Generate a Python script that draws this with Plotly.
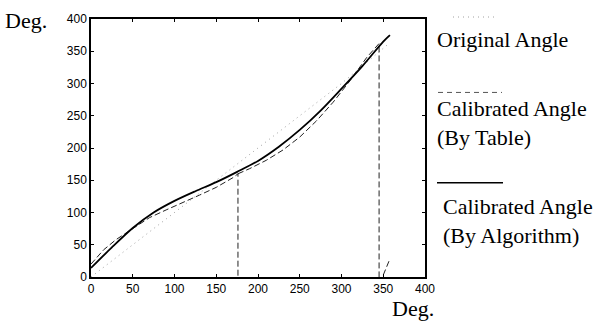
import plotly.graph_objects as go

# Original angle (dotted)
orig_x = [0, 100, 200, 300, 355]
orig_y = [0, 100, 200, 300, 360]

# Calibrated angle by table (dashed) - includes wrap/glitch jumps (None = break)
table_x = [0, 15, 30, 50, 70, 90, 110, 130, 150, 170, 176, 176, None, 176, 190, 210, 230, 250, 270, 290, 310, 330, 345, 345, None, 350, 357]
table_y = [20, 42, 58, 75, 92, 104, 115, 127, 139, 154, 160, 0, None, 160, 168, 181, 197, 217, 242, 271, 304, 340, 362, 0, None, 3, 25]

# Calibrated angle by algorithm (solid)
alg_x = [0, 25, 50, 75, 100, 125, 150, 175, 200, 225, 250, 275, 300, 325, 350, 358]
alg_y = [14, 46, 76, 100, 118, 133, 147, 163, 180, 202, 228, 258, 292, 327, 365, 375]

ticks = [0, 50, 100, 150, 200, 250, 300, 350, 400]

fig = go.Figure()
fig.add_trace(go.Scatter(x=orig_x, y=orig_y, mode="lines",
                         line=dict(color="#a0a0a0", width=1, dash="1px,4px"), showlegend=False))
fig.add_trace(go.Scatter(x=table_x, y=table_y, mode="lines", connectgaps=False,
                         line=dict(color="#222222", width=1, dash="6px,3px"), showlegend=False))
fig.add_trace(go.Scatter(x=alg_x, y=alg_y, mode="lines",
                         line=dict(color="black", width=1.8, shape="spline", smoothing=0.8), showlegend=False))

L, R, T, B = 91, 425, 17, 277
W, H = 593, 327

def px(x):
    return (x - L) / (R - L)

def py(y):
    return (B - y) / (B - T)

axis_common = dict(range=[0, 400], tickvals=ticks, showline=True, linecolor="black", linewidth=1.5,
                   mirror="ticks", ticks="inside", ticklen=3, tickcolor="black", showgrid=False,
                   zeroline=False, tickfont=dict(family="Liberation Sans, Arial", size=12, color="black"))

fig.update_layout(
    width=W, height=H,
    margin=dict(l=L, r=W - R, t=T, b=H - B),
    paper_bgcolor="white", plot_bgcolor="white",
    xaxis=dict(**axis_common),
    yaxis=dict(**axis_common),
    showlegend=False,
)

serif = dict(family="Liberation Serif, Times New Roman", size=22, color="black")

# Legend samples
fig.add_shape(type="line", xref="paper", yref="paper", x0=px(453), x1=px(495), y0=py(15), y1=py(15),
              line=dict(color="#a0a0a0", width=1, dash="1px,4px"))
fig.add_shape(type="line", xref="paper", yref="paper", x0=px(438), x1=px(502), y0=py(91), y1=py(91),
              line=dict(color="#555555", width=1, dash="5px,4px"))
fig.add_shape(type="line", xref="paper", yref="paper", x0=px(437), x1=px(503), y0=py(182), y1=py(182),
              line=dict(color="black", width=1.5))

fig.add_annotation(text="Original Angle", xref="paper", yref="paper", x=px(435), y=py(38),
                   xanchor="left", yanchor="middle", showarrow=False, font=serif, align="left")
fig.add_annotation(text="Calibrated Angle<br>(By Table)", xref="paper", yref="paper", x=px(435), y=py(122),
                   xanchor="left", yanchor="middle", showarrow=False, font=serif, align="left")
fig.add_annotation(text="Calibrated Angle<br>(By Algorithm)", xref="paper", yref="paper", x=px(441), y=py(221),
                   xanchor="left", yanchor="middle", showarrow=False, font=serif, align="left")

fig.add_annotation(text="Deg.", xref="paper", yref="paper", x=px(3), y=py(19),
                   xanchor="left", yanchor="middle", showarrow=False, font=serif)
fig.add_annotation(text="Deg.", xref="paper", yref="paper", x=px(390), y=py(309),
                   xanchor="left", yanchor="middle", showarrow=False, font=serif)

fig.write_html("out.html", config={"displayModeBar": False},
               post_script="document.body.style.margin='0';document.body.style.padding='0';")
